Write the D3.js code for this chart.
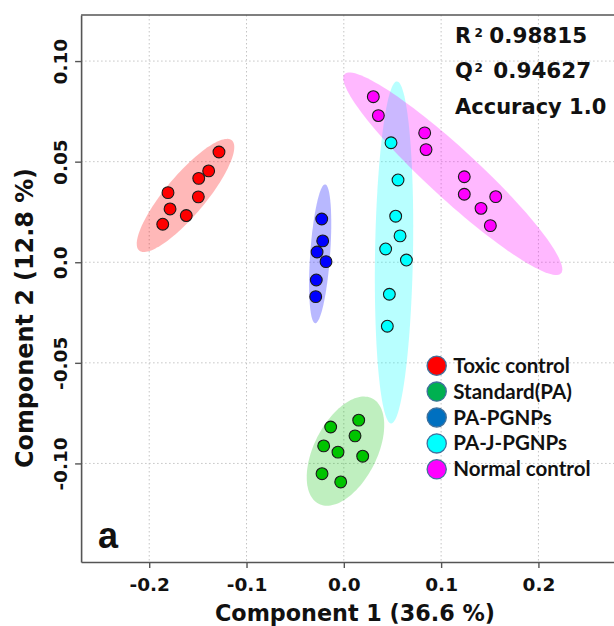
<!DOCTYPE html>
<html><head><meta charset="utf-8">
<script src="https://cdn.jsdelivr.net/npm/d3@7"></script>
<style>body{margin:0;background:#fff}svg{display:block}</style>
</head><body>
<svg id="chart" width="614" height="626"></svg>
<script>
// ---------- data ----------
const groups = ["Toxic control", "Standard(PA)", "PA-PGNPs", "PA-J-PGNPs", "Normal control"];

const toxicX  = [-0.1283, -0.1389, -0.1491, -0.1807, -0.1495, -0.1786, -0.1619, -0.1861];
const toxicY  = [ 0.0548,  0.0454,  0.0417,  0.0346,  0.0325,  0.0265,  0.0232,  0.0189];
const standardX = [0.0153, -0.0135, 0.0115, -0.0207, -0.0060, 0.0194, -0.0224, -0.0032];
const standardY = [-0.0785, -0.0819, -0.0863, -0.0913, -0.0944, -0.0964, -0.1051, -0.1092];
const pgnpX = [-0.0227, -0.0217, -0.0275, -0.0183, -0.0283, -0.0289];
const pgnpY = [ 0.0215,  0.0106,  0.0051,  0.0003, -0.0088, -0.0171];
const jpgnpX = [0.0485, 0.0557, 0.0533, 0.0578, 0.0430, 0.0643, 0.0468, 0.0447];
const jpgnpY = [0.0594, 0.0409, 0.0229, 0.0131, 0.0066, 0.0011, -0.0159, -0.0318];
const normalX = [0.0303, 0.0355, 0.0831, 0.0845, 0.1238, 0.1238, 0.1561, 0.1410, 0.1506];
const normalY = [0.0823, 0.0729, 0.0643, 0.0560, 0.0425, 0.0338, 0.0326, 0.0268, 0.0182];

// confidence ellipses: centre and two half-axis vectors, in component units
const ellipseCX = [-0.1627, 0.0017, -0.0243, 0.0516, 0.1120];
const ellipseCY = [ 0.0332, -0.0939, 0.0042, 0.0049, 0.0440];
const ellipseMajor = [[0.0476, 0.0274], [0.0275, 0.0262], [0.0051, 0.0345], [0.0030, 0.0850], [0.1112, -0.0495]];
const ellipseMinor = [[0.0157, -0.0064], [0.0288, -0.0071], [0.0102, -0.0004], [0.0195, -0.0002], [0.0174, 0.0091]];

const xTicks = [-0.2, -0.1, 0.0, 0.1, 0.2];
const xTickLabels = ["-0.2", "-0.1", "0.0", "0.1", "0.2"];
const yTicks = [-0.10, -0.05, 0.0, 0.05, 0.10];
const yTickLabels = ["-0.10", "-0.05", "0.0", "0.05", "0.10"];

const statLabels = ["R", "Q", "Accuracy 1.0"];
const statValues = ["0.98815", "0.94627", ""];

const xTitle = "Component 1 (36.6 %)";
const yTitle = "Component 2 (12.8 %)";
const panelLabel = "a";

// ---------- styles ----------
const pointColors = ["#ff0000", "#00c400", "#0000ff", "#00ffff", "#ff00ff"];
const ellipseColors = ["#ff0000", "#00c000", "#0000ff", "#00ffff", "#ff00ff"];
const ellipseOpacity = [0.28, 0.25, 0.28, 0.28, 0.28];
const legendColors = ["#ff0000", "#00b050", "#0070c0", "#00ffff", "#ff00ff"];
const drawOrder = [0, 1, 2, 3, 4];

const seriesX = [toxicX, standardX, pgnpX, jpgnpX, normalX];
const seriesY = [toxicY, standardY, pgnpY, jpgnpY, normalY];

const svg = d3.select("#chart");
const plotL = 81.1, plotR = 626, plotT = 15, plotB = 562;
const x = d3.scaleLinear().domain([-0.27, 0.29]).range([plotL, plotR]);
const y = d3.scaleLinear().domain([-0.149, 0.1229]).range([plotB, plotT]);
const heavy = "'DejaVu Sans', Verdana, sans-serif";

// grid
const grid = svg.append("g").attr("stroke", "#c4c4c4").attr("stroke-width", 1).attr("stroke-dasharray", "1.5,2.5");
grid.selectAll("line.v").data(xTicks).join("line").attr("class", "v")
  .attr("x1", d => x(d)).attr("x2", d => x(d)).attr("y1", plotT).attr("y2", plotB);
grid.selectAll("line.h").data(yTicks).join("line").attr("class", "h")
  .attr("y1", d => y(d)).attr("y2", d => y(d)).attr("x1", plotL).attr("x2", plotR);

// ellipses
const line = d3.line().x(p => x(p[0])).y(p => y(p[1]));
const tSteps = d3.range(0, 121).map(i => i / 120 * 2 * Math.PI);
svg.append("g").selectAll("path").data(drawOrder).join("path")
  .attr("d", i => line(tSteps.map(t => [
      ellipseCX[i] + Math.cos(t) * ellipseMajor[i][0] + Math.sin(t) * ellipseMinor[i][0],
      ellipseCY[i] + Math.cos(t) * ellipseMajor[i][1] + Math.sin(t) * ellipseMinor[i][1]])) + "Z")
  .attr("fill", i => ellipseColors[i]).attr("fill-opacity", i => ellipseOpacity[i]).attr("stroke", "none");

// points
groups.forEach((g, i) => {
  svg.append("g").selectAll("circle").data(seriesX[i].map((v, k) => [v, seriesY[i][k]])).join("circle")
    .attr("cx", d => x(d[0])).attr("cy", d => y(d[1])).attr("r", 5.9)
    .attr("fill", pointColors[i]).attr("stroke", "#1a1a1a").attr("stroke-width", 1.1);
});

// axes
const axisColor = "#555";
const xAxis = svg.append("g").attr("transform", `translate(0,${plotB})`)
  .call(d3.axisBottom(x).tickValues(xTicks).tickFormat((d, i) => xTickLabels[i]).tickSize(6).tickSizeOuter(0));
const yAxis = svg.append("g").attr("transform", `translate(${plotL},0)`)
  .call(d3.axisLeft(y).tickValues(yTicks).tickFormat((d, i) => yTickLabels[i]).tickSize(6).tickSizeOuter(0));
[xAxis, yAxis].forEach(a => {
  a.select(".domain").attr("stroke", axisColor).attr("stroke-width", 1.6);
  a.selectAll(".tick line").attr("stroke", axisColor).attr("stroke-width", 1.4);
  a.selectAll(".tick text").attr("fill", "#111").attr("font-family", heavy)
    .attr("font-weight", "bold").attr("font-size", 18.5);
});
xAxis.selectAll(".tick text").attr("dy", null).attr("y", 28.5);
yAxis.selectAll(".tick text").attr("transform", "rotate(-90)").attr("x", 0).attr("y", -14)
  .attr("dy", null).attr("text-anchor", "middle");
// top border
svg.append("line").attr("x1", plotL).attr("x2", plotR).attr("y1", plotT).attr("y2", plotT)
  .attr("stroke", axisColor).attr("stroke-width", 1.6);

// titles
svg.append("text").attr("x", 355).attr("y", 621).attr("text-anchor", "middle")
  .attr("font-family", heavy).attr("font-weight", "bold").attr("font-size", 22.5)
  .attr("textLength", 280).attr("lengthAdjust", "spacingAndGlyphs").attr("fill", "#111").text(xTitle);
svg.append("text").attr("transform", "translate(33,318) rotate(-90)").attr("text-anchor", "middle")
  .attr("font-family", heavy).attr("font-weight", "bold").attr("font-size", 24)
  .attr("textLength", 300).attr("lengthAdjust", "spacingAndGlyphs").attr("fill", "#111").text(yTitle);

// panel label
svg.append("text").attr("x", 98).attr("y", 548).attr("font-family", "'Liberation Sans', Arial, sans-serif")
  .attr("font-weight", "bold").attr("font-size", 36).attr("fill", "#111").text(panelLabel);

// statistics
const statBase = [43.3, 78.3, 114.3];
const statValX = [489.3, 493.3];
statLabels.forEach((s, i) => {
  const g = svg.append("g").attr("font-family", heavy).attr("font-weight", "bold").attr("fill", "#111");
  g.append("text").attr("x", 455).attr("y", statBase[i]).attr("font-size", 21).text(s);
  if (i < 2) {
    g.append("text").attr("x", 474.5).attr("y", statBase[i] - 6.3).attr("font-size", 12).text("2");
    g.append("text").attr("x", statValX[i]).attr("y", statBase[i]).attr("font-size", 21.5).text(statValues[i]);
  }
});

// legend
const leg = svg.append("g");
groups.forEach((g, i) => {
  const cy = 365.7 + i * 25.9;
  leg.append("circle").attr("cx", 436.7).attr("cy", cy).attr("r", 9.6)
    .attr("fill", legendColors[i]).attr("stroke", "#41719c").attr("stroke-width", 1.3);
  leg.append("text").attr("x", 453.3).attr("y", cy + 7).attr("font-family", "Lato, Carlito, sans-serif")
    .attr("font-weight", "bold").attr("font-size", 20.5).attr("fill", "#111").text(g);
});
</script>
</body></html>
